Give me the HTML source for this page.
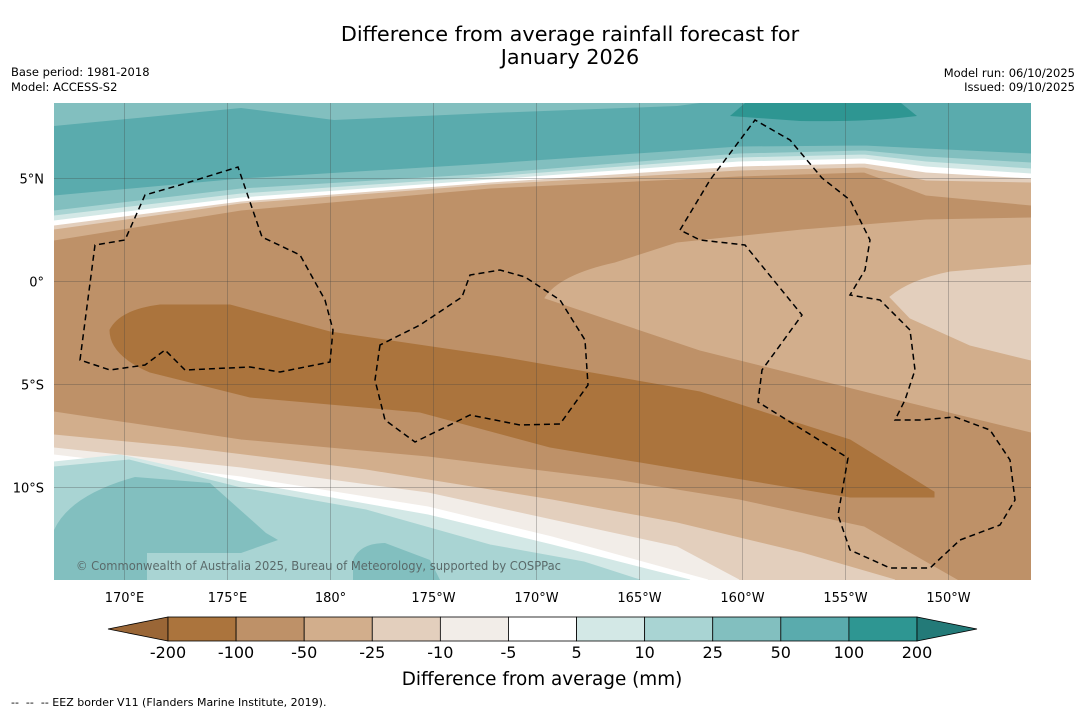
<!DOCTYPE html>
<html><head><meta charset="utf-8"><style>
body{margin:0;background:#fff;font-family:"DejaVu Sans","Liberation Sans",sans-serif;}
#wrap{position:relative;width:1085px;height:713px;overflow:hidden;background:#fff}
</style></head><body>
<div id="wrap">
<svg id="svg" width="1085" height="713" xmlns="http://www.w3.org/2000/svg" font-family="DejaVu Sans, Liberation Sans, sans-serif">
<text x="570" y="41" font-size="20.8" text-anchor="middle">Difference from average rainfall forecast for</text>
<text x="570" y="64" font-size="20.8" text-anchor="middle">January 2026</text>
<text x="11" y="76" font-size="11.5">Base period: 1981-2018</text>
<text x="11" y="91" font-size="11.5">Model: ACCESS-S2</text>
<text x="1075" y="77" font-size="11.5" text-anchor="end">Model run: 06/10/2025</text>
<text x="1075" y="91" font-size="11.5" text-anchor="end">Issued: 09/10/2025</text>
<defs><clipPath id="mc"><rect x="54" y="103" width="977" height="477"/></clipPath></defs>
<g id="map" clip-path="url(#mc)">
<rect x="54" y="103" width="977" height="477" fill="#be9168"/>
<path fill="#d2ae8c" stroke="#d2ae8c" d="M545,298 Q560,275 615,263 L677,243 L802,230 L926,220 L1031,218 L1031,432 L900,400 L700,350 Z"/>
<path fill="#e3cfbd" stroke="#e3cfbd" d="M890,297 Q910,280 950,272 L1031,265 L1031,360 L970,345 L910,318 Z"/>
<path fill="#ab743d" stroke="#ab743d" d="M110,330 Q120,310 160,305 L230,305 L330,332 L500,357 L700,392 L850,440 L934,492 L934,497 L850,497 L700,472 L550,447 L420,412 L250,397 L150,372 Q110,355 110,330 Z"/>
<g id="bands"></g>
<g id="grid"></g>
<g fill="none" stroke="#000" stroke-width="1.5" stroke-dasharray="6,4">
<path d="M80,360 L95,245 L125,240 L145,195 L180,185 L238,167 L262,237 L300,255 L325,300 L333,330 L330,362 L280,372 L250,367 L185,370 L165,350 L145,365 L110,370 Z"/>
<path d="M380,345 L375,380 L385,420 L415,442 L470,415 L520,425 L560,424 L588,385 L585,340 L560,300 L525,277 L500,270 L470,275 L462,297 L420,325 Z"/>
<path d="M680,230 L710,180 L755,120 L790,140 L822,178 L850,200 L870,240 L865,270 L850,295 L880,300 L910,330 L915,370 L905,400 L895,420 L920,420 L955,417 L990,430 L1010,460 L1015,500 L1000,525 L960,540 L930,568 L890,568 L850,550 L838,515 L848,458 L758,402 L762,370 L802,315 L745,245 L700,240 Z"/>
</g>
<text x="76" y="570" font-size="12" fill="#5a6a6a" textLength="485" lengthAdjust="spacingAndGlyphs">© Commonwealth of Australia 2025, Bureau of Meteorology, supported by COSPPac</text>
</g>
<g id="axes"></g>
<g id="cbar"></g>
<text x="542" y="685" font-size="18.4" text-anchor="middle">Difference from average (mm)</text>
<text x="11" y="706" font-size="11" xml:space="preserve">--  --  -- EEZ border V11 (Flanders Marine Institute, 2019).</text>
</svg>
</div>
<script>
const NS="http://www.w3.org/2000/svg";
const lonLabels=["170°E","175°E","180°","175°W","170°W","165°W","160°W","155°W","150°W"];
const lonValues=[170,175,180,185,190,195,200,205,210];
const latLabels=["5°N","0°","5°S","10°S"];
const latValues=[5,0,-5,-10];
const cbarLabels=["-200","-100","-50","-25","-10","-5","5","10","25","50","100","200"];
const cbarColors=["#ab743d","#be9168","#d2ae8c","#e3cfbd","#f2ede8","#ffffff","#d3e8e6","#a9d4d3","#82bfbf","#5aabad","#2e9692"];
const extLow="#9a6636", extHigh="#237a78";
function xLon(l){return 124+(l-170)*103/5;}
function yLat(l){return 281-l*103/5;}
function mk(t,a,p){const e=document.createElementNS(NS,t);for(const k in a)e.setAttribute(k,a[k]);p.appendChild(e);return e;}
const bandsG=document.getElementById('bands');
const BX=[54,241,490,739,864,926,1031];
const upperBands=[
 ["#d2ae8c",[240,210,188,176,172,195,205]],
 ["#e3cfbd",[229,203,184,170,167,180,182]],
 ["#ffffff",[225,201,182,166,163,172,178]],
 ["#d3e8e6",[220,197,179,161,158,166,173]],
 ["#a9d4d3",[215,193,176,157,154,161,168]],
 ["#82bfbf",[210,188,173,153,150,156,162]],
 ["#5aabad",[195,178,163,146,145,148,153]]];
upperBands.forEach(b=>{let d="M54,103";BX.forEach((x,i)=>d+=" L"+x+","+b[1][i]);d+=" L1031,103 Z";
 const p=mk('path',{d:d,fill:b[0],stroke:b[0]},bandsG);
 
 });
const lowerBands=[
 ["#d2ae8c",[[54,412],[241,440],[428,457],[615,480],[739,500],[864,527],[957,580]]],
 ["#e3cfbd",[[54,435],[179,447],[366,470],[552,500],[677,523],[802,553],[895,580]]],
 ["#f2ede8",[[54,448],[241,468],[428,493],[552,520],[677,547],[739,580]]],
 ["#ffffff",[[54,455],[241,477],[428,507],[552,537],[708,580]]],
 ["#d3e8e6",[[54,462],[120,455],[241,482],[428,515],[552,545],[650,570],[690,580]]],
 ["#a9d4d3",[[54,467],[129,460],[241,488],[366,510],[490,545],[584,562],[640,580]]]];
lowerBands.forEach(b=>{let d="M54,580";b[1].forEach(p=>d+=" L"+p[0]+","+p[1]);d+=" Z";
 const p=mk('path',{d:d,fill:b[0],stroke:b[0]},bandsG);
 
 });
["M54,530 Q70,495 135,477 L210,483 L266,533 L278,540 L241,553 L147,553 L147,580 L54,580 Z",
 "M353,560 Q360,543 385,543 L430,560 L440,580 L353,580 Z"].forEach(s=>{
 const p=mk('path',{d:s,fill:"#82bfbf"},bandsG);
 
 });
let p1=mk('path',{d:"M54,103 L54,126 L241,108 L334,120 L490,113 L677,106 L700,103 Z",fill:"#82bfbf"},bandsG);


let p2=mk('path',{d:"M730,116 L745,103 L901,103 L917,116 Q870,122 800,121 Z",fill:"#2e9692"},bandsG);


const grid=document.getElementById('grid'),axes=document.getElementById('axes');
lonValues.forEach((v,i)=>{const x=Math.round(xLon(v))+0.5;
 const l=mk('line',{x1:x,x2:x,y1:103,y2:580,stroke:"#444","stroke-width":0.5,"stroke-opacity":0.6},grid);
 
 
 const t=mk('text',{x:x,y:602,"font-size":13,"text-anchor":"middle"},axes);t.textContent=lonLabels[i];
 
 });
latValues.forEach((v,i)=>{const y=Math.round(yLat(v))+0.5;
 const l=mk('line',{x1:54,x2:1031,y1:y,y2:y,stroke:"#444","stroke-width":0.5,"stroke-opacity":0.6},grid);
 
 
 const t=mk('text',{x:44,y:y+5,"font-size":13,"text-anchor":"end"},axes);t.textContent=latLabels[i];
 
 });
const cb=document.getElementById('cbar');
const cx0=168,cw=(917-168)/cbarColors.length,cy=617,ch=24;
let tl=mk('polygon',{points:`108,${cy+ch/2} ${cx0},${cy} ${cx0},${cy+ch}`,fill:extLow,stroke:"#000","stroke-width":0.8},cb);


cbarColors.forEach((c,i)=>{const r=mk('rect',{x:cx0+i*cw,y:cy,width:cw,height:ch,fill:c,stroke:"#000","stroke-width":0.8},cb);
 
 });
let th=mk('polygon',{points:`977,${cy+ch/2} 917,${cy} 917,${cy+ch}`,fill:extHigh,stroke:"#000","stroke-width":0.8},cb);


cbarLabels.forEach((s,i)=>{const t=mk('text',{x:cx0+i*cw,y:658,"font-size":16,"text-anchor":"middle"},cb);t.textContent=s;
 
 });
</script>
</body></html>
